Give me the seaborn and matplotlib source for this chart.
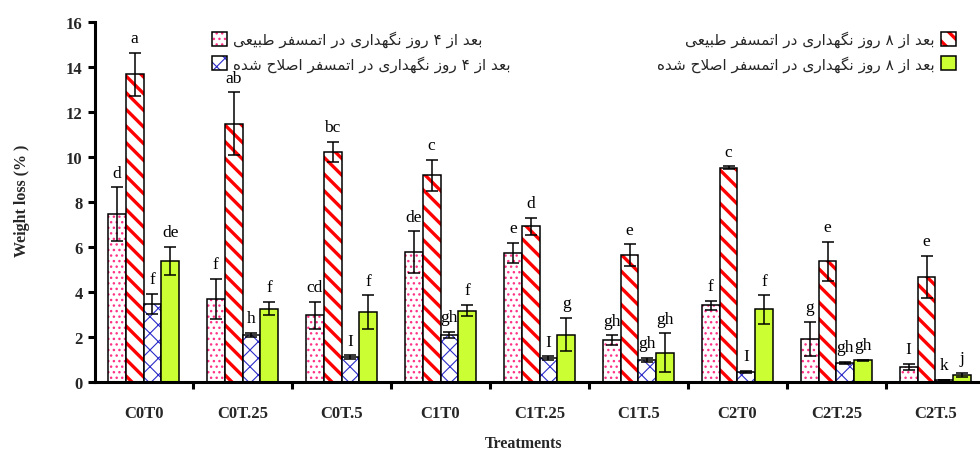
import numpy as np
import pandas as pd
import matplotlib
matplotlib.use("Agg")
import matplotlib.pyplot as plt
import matplotlib.colors as mcolors
from matplotlib.patches import Patch
from matplotlib.ticker import FixedLocator
import seaborn as sns

# ---- data -------------------------------------------------------------
treatments = ["C0T0", "C0T.25", "C0T.5", "C1T0", "C1T.25",
              "C1T.5", "C2T0", "C2T.25", "C2T.5"]

series_names = [
    "بعد از ۴ روز نگهداری در اتمسفر طبیعی",
    "بعد از ۸ روز نگهداری در اتمسفر طبیعی",
    "بعد از ۴ روز نگهداری در اتمسفر اصلاح شده",
    "بعد از ۸ روز نگهداری در اتمسفر اصلاح شده",
]

natural_4d = [7.45, 3.68, 2.94, 5.76, 5.73, 1.84, 3.40, 1.90, 0.65]
natural_4d_err = [1.20, 0.90, 0.62, 0.93, 0.45, 0.22, 0.20, 0.77, 0.13]
natural_8d = [13.68, 11.48, 10.23, 9.19, 6.92, 5.63, 9.52, 5.36, 4.67]
natural_8d_err = [0.95, 1.40, 0.45, 0.69, 0.38, 0.48, 0.06, 0.87, 0.94]
modified_4d = [3.46, 2.08, 1.08, 2.09, 1.05, 0.95, 0.43, 0.83, 0.07]
modified_4d_err = [0.45, 0.10, 0.08, 0.13, 0.07, 0.10, 0.05, 0.06, 0.00]
modified_8d = [5.36, 3.24, 3.09, 3.16, 2.09, 1.28, 3.21, 0.95, 0.30]
modified_8d_err = [0.63, 0.30, 0.75, 0.25, 0.75, 0.87, 0.63, 0.03, 0.10]

natural_4d_letters = ["d", "f", "cd", "de", "e", "gh", "f", "g", "I"]
natural_8d_letters = ["a", "ab", "bc", "c", "d", "e", "c", "e", "e"]
modified_4d_letters = ["f", "h", "I", "gh", "I", "gh", "I", "gh", "k"]
modified_8d_letters = ["de", "f", "f", "f", "g", "gh", "f", "gh", "j"]

y_ticks = [0, 2, 4, 6, 8, 10, 12, 14, 16]

values = [natural_4d, natural_8d, modified_4d, modified_8d]
errors = [natural_4d_err, natural_8d_err, modified_4d_err, modified_8d_err]
letters = [natural_4d_letters, natural_8d_letters,
           modified_4d_letters, modified_8d_letters]

# ---- styles -----------------------------------------------------------
fills = ["white", "white", "white", "#CCFF33"]
hatches = ["...", "\\\\", "xx", None]
hatch_colors = ["#FF3388", "#FF0000", "#2B2BC8", "black"]
hatch_widths = [1.0, 2.4, 0.8, 1.0]

SERIF = "Liberation Serif"

# ---- minimal Persian shaping (presentation forms, visual order) -------
FORMS = {
    "ا": ("\uFE8D", "\uFE8E", None, None),
    "ب": ("\uFE8F", "\uFE90", "\uFE91", "\uFE92"),
    "ت": ("\uFE95", "\uFE96", "\uFE97", "\uFE98"),
    "ح": ("\uFEA1", "\uFEA2", "\uFEA3", "\uFEA4"),
    "د": ("\uFEA9", "\uFEAA", None, None),
    "ر": ("\uFEAD", "\uFEAE", None, None),
    "ز": ("\uFEAF", "\uFEB0", None, None),
    "س": ("\uFEB1", "\uFEB2", "\uFEB3", "\uFEB4"),
    "ش": ("\uFEB5", "\uFEB6", "\uFEB7", "\uFEB8"),
    "ص": ("\uFEB9", "\uFEBA", "\uFEBB", "\uFEBC"),
    "ط": ("\uFEC1", "\uFEC2", "\uFEC3", "\uFEC4"),
    "ع": ("\uFEC9", "\uFECA", "\uFECB", "\uFECC"),
    "ف": ("\uFED1", "\uFED2", "\uFED3", "\uFED4"),
    "ل": ("\uFEDD", "\uFEDE", "\uFEDF", "\uFEE0"),
    "م": ("\uFEE1", "\uFEE2", "\uFEE3", "\uFEE4"),
    "ن": ("\uFEE5", "\uFEE6", "\uFEE7", "\uFEE8"),
    "ه": ("\uFEE9", "\uFEEA", "\uFEEB", "\uFEEC"),
    "و": ("\uFEED", "\uFEEE", None, None),
    "ی": ("\uFBFC", "\uFBFD", "\uFBFE", "\uFBFF"),
    "گ": ("\uFB92", "\uFB93", "\uFB94", "\uFB95"),
}


def joins_forward(ch):
    return ch in FORMS and FORMS[ch][2] is not None


def shape_rtl(text):
    out = []
    i, n = 0, len(text)
    while i < n:
        c = text[i]
        if c not in FORMS:
            out.append(c)
            i += 1
            continue
        prev_join = i > 0 and joins_forward(text[i - 1])
        if c == "ل" and i + 1 < n and text[i + 1] == "ا":
            out.append("\uFEFC" if prev_join else "\uFEFB")
            i += 2
            continue
        next_join = joins_forward(c) and i + 1 < n and text[i + 1] in FORMS
        isol, fina, init, medi = FORMS[c]
        if prev_join and next_join:
            out.append(medi)
        elif prev_join:
            out.append(fina)
        elif next_join:
            out.append(init)
        else:
            out.append(isol)
        i += 1
    return "".join(reversed(out))


def style_patch(p, k):
    p.set_facecolor(fills[k])
    p.set_edgecolor("black")
    p.set_linewidth(1.1)
    if hatches[k]:
        p.set_hatch(hatches[k])
        rgba = mcolors.to_rgba(hatch_colors[k])
        if hasattr(p, "set_hatchcolor"):
            p.set_hatchcolor(rgba)
        else:
            p._hatch_color = rgba
        if hasattr(p, "set_hatch_linewidth"):
            p.set_hatch_linewidth(hatch_widths[k])
        else:
            p._hatch_linewidth = hatch_widths[k]


# ---- long-form table --------------------------------------------------
df = pd.DataFrame({
    "Treatment": np.tile(treatments, len(series_names)),
    "Series": np.repeat(series_names, len(treatments)),
    "Loss": np.concatenate(values),
})

sns.set_theme(style="white")
plt.rcParams["font.family"] = [SERIF, "DejaVu Sans"]

fig = plt.figure(figsize=(9.8, 4.52), dpi=100)
ax = fig.add_axes([0.097, 0.1537, 0.903, 0.795])

sns.barplot(data=df, x="Treatment", y="Loss", hue="Series",
            order=treatments, hue_order=series_names,
            palette=fills, saturation=1, width=0.72,
            errorbar=None, legend=False, ax=ax)

bar_containers = list(ax.containers)
for k, cont in enumerate(bar_containers):
    xs = []
    for p in cont.patches:
        style_patch(p, k)
        xs.append(p.get_x() + p.get_width() / 2)
    ax.errorbar(xs, values[k], yerr=errors[k], fmt="none", ecolor="black",
                elinewidth=1.1, capsize=4, capthick=1.1, zorder=5)
    for x, v, e, lab in zip(xs, values[k], errors[k], letters[k]):
        ax.text(x, v + e + 0.3, lab, ha="center", va="bottom",
                fontsize=12.5, family=SERIF, color="black")

# ---- axes -------------------------------------------------------------
ax.set_xlim(-0.49, 8.45)
ax.set_ylim(0, 16)
ax.set_yticks(y_ticks)
ax.set_yticklabels([str(t) for t in y_ticks], fontsize=12,
                   fontweight="bold", family=SERIF)
ax.set_xticks(range(len(treatments)))
ax.set_xticklabels(treatments, fontsize=12, fontweight="bold", family=SERIF)
ax.xaxis.set_minor_locator(FixedLocator(np.arange(0.5, len(treatments) - 1, 1.0)))
ax.tick_params(axis="x", which="major", length=0, pad=17)
ax.tick_params(axis="x", which="minor", length=5, width=2.2,
               direction="out", color="black", bottom=True)
ax.tick_params(axis="y", which="major", length=5, width=2.2,
               direction="out", color="black", left=True, pad=4)

for side in ["top", "right"]:
    ax.spines[side].set_visible(False)
for side in ["left", "bottom"]:
    ax.spines[side].set_linewidth(2.2)
    ax.spines[side].set_color("black")

ax.set_xlabel("Treatments", fontsize=11.5, fontweight="bold", family=SERIF)
ax.set_ylabel("Weight loss (% )", fontsize=11.5, fontweight="bold", family=SERIF)
ax.xaxis.set_label_coords(0.484, -0.148)
ax.yaxis.set_label_coords(-0.074, 0.505)
ax.grid(False)

# ---- legends ----------------------------------------------------------
handles = []
for k in range(4):
    h = Patch(label=shape_rtl(series_names[k]))
    style_patch(h, k)
    handles.append(h)

legend_font = {"family": "DejaVu Sans", "size": 11}
leg_left = fig.legend([handles[0], handles[2]],
                      [h.get_label() for h in (handles[0], handles[2])],
                      loc="upper left", bbox_to_anchor=(0.216, 0.93),
                      frameon=False, prop=legend_font, handlelength=1.0,
                      handleheight=1.0, handletextpad=0.4, labelspacing=0.5,
                      borderaxespad=0, borderpad=0)
leg_right = fig.legend([handles[1], handles[3]],
                       [h.get_label() for h in (handles[1], handles[3])],
                       loc="upper right", bbox_to_anchor=(0.976, 0.93),
                       frameon=False, prop=legend_font, handlelength=1.0,
                       handleheight=1.0, handletextpad=0.4, labelspacing=0.5,
                       markerfirst=False, borderaxespad=0, borderpad=0)
for leg, ks in ((leg_left, (0, 2)), (leg_right, (1, 3))):
    for p, k in zip(leg.get_patches(), ks):
        style_patch(p, k)

fig.savefig("out.png", dpi=100)
